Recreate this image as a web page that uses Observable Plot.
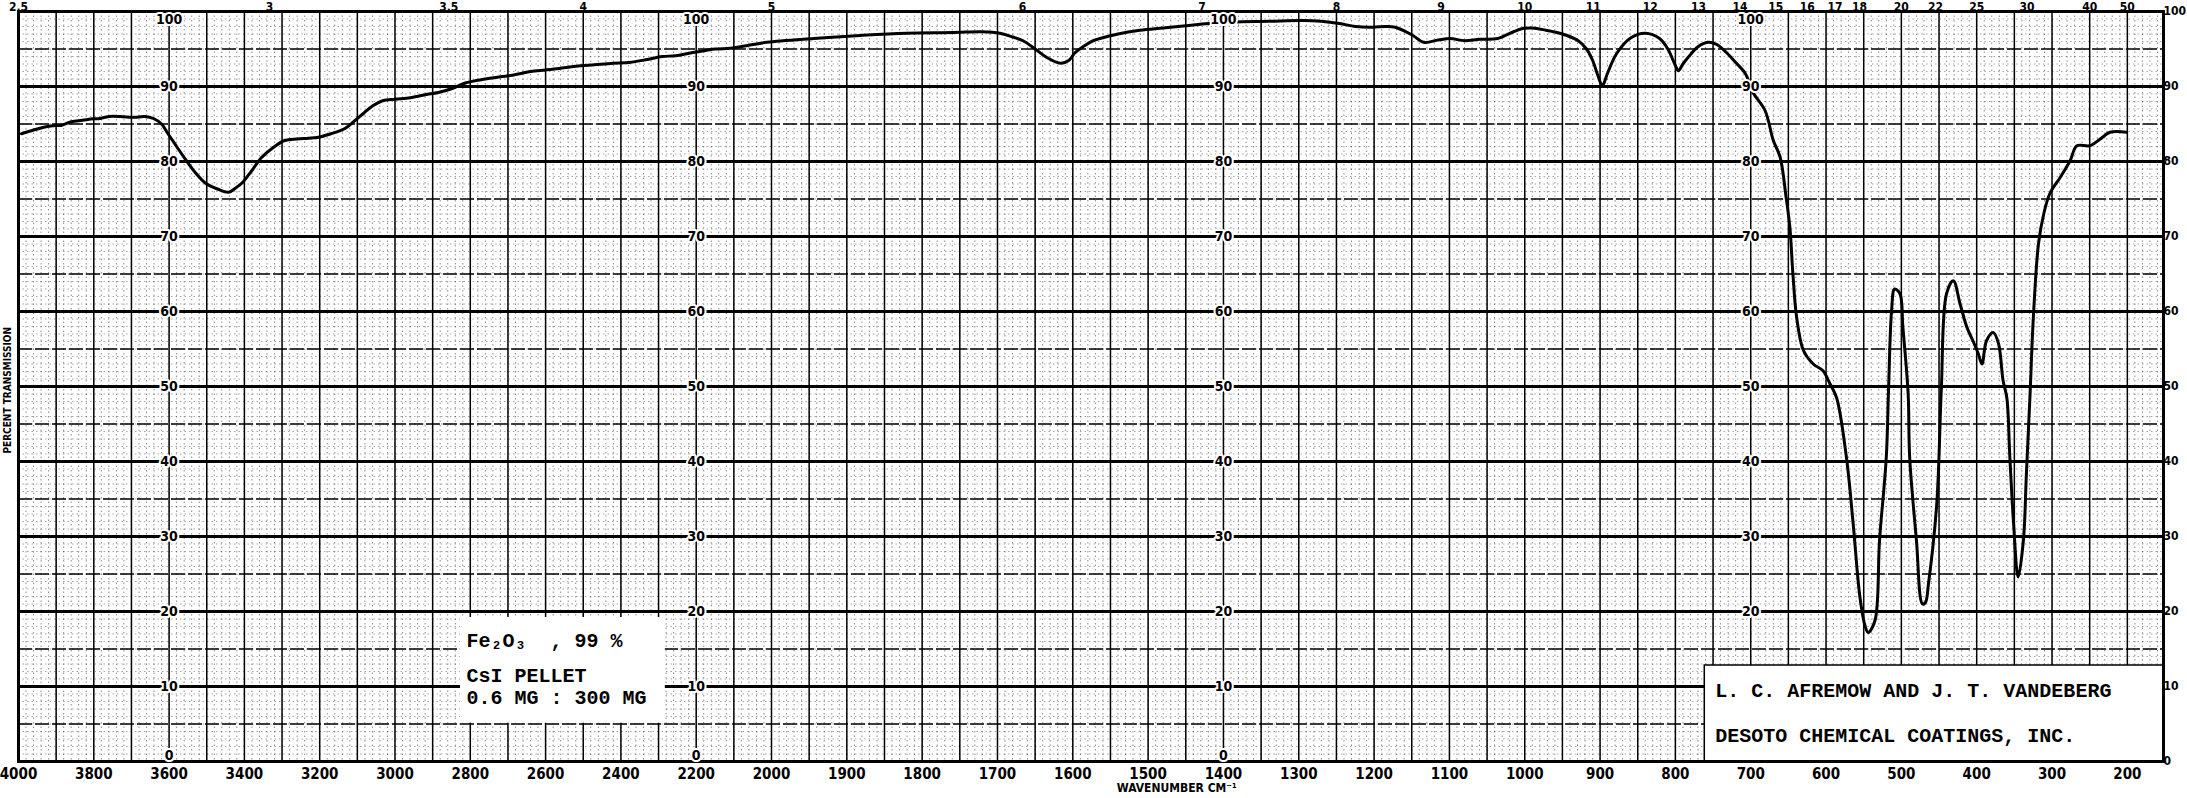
<!DOCTYPE html>
<html><head><meta charset="utf-8">
<script src="https://cdn.jsdelivr.net/npm/d3@7"></script>
<script src="https://cdn.jsdelivr.net/npm/@observablehq/plot@0.6"></script>
<style>
html,body{margin:0;padding:0;background:#fff;overflow:hidden}
</style></head><body><div id="chart"></div>
<script>
// Spectrum: wavenumber (cm-1) and percent transmission
const wavenumber = [3992,3960,3930,3900,3887,3860,3830,3800,3788,3760,3730,3700,3689,3665,3640,3620,3603,3580,3554,3530,3503,3470,3442,3425,3405,3380,3355,3325,3293,3260,3230,3207,3170,3133,3110,3084,3060,3033,3000,2959,2920,2885,2850,2811,2760,2720,2688,2640,2600,2564,2520,2470,2420,2378,2330,2290,2255,2200,2150,2109,2060,2012,1944,1882,1821,1759,1720,1697,1680,1666,1650,1635,1616,1605,1598,1585,1573,1540,1511,1480,1450,1420,1388,1340,1295,1270,1246,1225,1202,1185,1172,1150,1134,1115,1099,1080,1060,1036,1015,1004,990,972,950,929,918,910,903,897,890,878,859,840,821,810,800,796,790,783,770,757,745,732,720,707,697,681,670,661,653,648,644,639,630,617,604,595,586,573,564,555,548,544,535,529,520,517,513,509,502,498,491,489,480,472,468,464,453,447,440,431,422,413,405,398,393,387,378,371,365,360,356,351,345,338,334,329,325,318,311,303,289,276,267,250,236,223,201];
const transmission = [83.7,84.2,84.6,84.8,84.8,85.3,85.5,85.7,85.7,86.0,86.0,85.9,85.9,86.0,85.7,85.0,83.7,82.0,80.1,78.5,77.1,76.3,75.9,76.4,77.2,78.8,80.5,81.8,82.8,83.0,83.1,83.2,83.7,84.4,85.3,86.4,87.4,88.1,88.3,88.5,88.9,89.2,89.7,90.5,91.0,91.3,91.5,92.0,92.2,92.4,92.7,92.9,93.1,93.2,93.6,94.0,94.1,94.6,95.0,95.1,95.5,95.9,96.4,96.8,97.1,97.2,97.3,97.1,96.6,96.1,95.0,93.9,93.1,93.5,94.4,95.4,96.1,97.0,97.5,97.8,98.1,98.4,98.6,98.7,98.8,98.7,98.4,98.0,97.9,98.0,97.9,96.9,95.9,96.2,96.4,96.1,96.3,96.4,97.3,97.7,97.8,97.5,97.0,96.1,95.0,93.5,91.5,90.1,91.8,94.4,96.5,97.1,96.4,95.0,92.8,92.1,93.0,93.9,95.3,95.9,95.6,94.5,93.2,91.7,89.2,86.8,82.8,80.6,75.2,71.2,65.0,59.2,54.8,53.0,52.1,50.4,48.5,40.6,31.7,21.9,18.0,17.2,18.8,29.5,40.6,49.7,60.1,63.0,62.4,57.9,49.0,40.6,29.5,21.0,21.2,23.7,34.4,49.5,62.4,64.1,61.0,57.9,56.1,54.4,53.0,56.1,57.2,55.7,50.8,48.5,40.6,31.7,24.6,29.5,38.4,49.3,58.8,69.0,73.0,75.7,77.9,80.1,82.1,82.1,83.0,83.9,83.9];

// Axis tick values
const wavenumberTicks = [4000,3800,3600,3400,3200,3000,2800,2600,2400,2200,2000,1900,1800,1700,1600,1500,1400,1300,1200,1100,1000,900,800,700,600,500,400,300,200];
const micronTicks = [2.5,3,3.5,4,5,6,7,8,9,10,11,12,13,14,15,16,17,18,20,22,25,30,40,50];
const percentTicks = [0,10,20,30,40,50,60,70,80,90,100];
const percentInner = [10,20,30,40,50,60,70,80,90];
const labelColumns = [3600,2200,1400];
const lastColumn = 700;
const lastColumnTicks = [20,30,40,50,60,70,80,90];

// Annotation texts
const sampleLines = ["Fe\u2082O\u2083  , 99 %", "CsI PELLET", "0.6 MG : 300 MG"];
const sampleLineT = [16.1, 11.4, 8.5];
const authorLines = ["L. C. AFREMOW AND J. T. VANDEBERG", "DESOTO CHEMICAL COATINGS, INC."];
const authorLineT = [9.5, 3.5];

const spectrum = wavenumber.map((w, i) => ({w, t: transmission[i]}));
const microns = micronTicks.map(m => 10000 / m);
const minorV = d3.range(4000, 2000, -20).concat(d3.range(2000, 150, -10));
const majorV = d3.range(4000, 2000, -100).concat(d3.range(2000, 150, -50));
const minorH = d3.range(0, 101, 1);
const midH = d3.range(5, 100, 10);
const cross = (cols, vals) => cols.flatMap(c => vals.map(v => ({c, v})));
const innerLabels = cross(labelColumns, percentInner).concat(cross([lastColumn], lastColumnTicks));
const sample = sampleLines.map((s, i) => ({s, t: sampleLineT[i]}));
const author = authorLines.map((s, i) => ({s, t: authorLineT[i]}));

const sans = "'DejaVu Sans Condensed','DejaVu Sans',sans-serif";
const mono = "'Liberation Mono','DejaVu Sans Mono',monospace";
const halo = {fontSize: 14, fontWeight: "bold", stroke: "#fff", strokeWidth: 4, fill: "#000"};

const chart = Plot.plot({
  width: 2187,
  height: 798,
  marginLeft: 18,
  marginRight: 24,
  marginTop: 11,
  marginBottom: 37,
  style: {fontFamily: sans, background: "#fff", color: "#000"},
  x: {type: "linear", domain: [4000, 2000, 152], range: [18, 771, 2163], label: null},
  y: {domain: [0, 100], label: null},
  marks: [
    // grid
    Plot.ruleX(minorV, {stroke: "#000", strokeOpacity: 0.45, strokeWidth: 1, strokeDasharray: "1.5,3"}),
    Plot.ruleY(minorH, {stroke: "#000", strokeOpacity: 0.35, strokeWidth: 1, strokeDasharray: "1.5,3"}),
    Plot.ruleY(midH, {stroke: "#000", strokeWidth: 1.6, strokeDasharray: "14,3"}),
    Plot.ruleX(majorV, {stroke: "#000", strokeWidth: 1.5}),
    Plot.ruleY(percentTicks, {stroke: "#000", strokeWidth: 3}),
    // pasted label boxes
    Plot.rect([0], {x1: 2826, x2: 2282, y1: 5.1, y2: 19.2, fill: "#fff"}),
    Plot.rect([0], {x1: 761, x2: 152, y1: 0, y2: 12.8, fill: "#fff", stroke: "#000", strokeWidth: 1.5}),
    Plot.frame({stroke: "#000", strokeWidth: 3}),
    // spectrum
    Plot.line(spectrum, {x: "w", y: "t", stroke: "#000", strokeWidth: 3, curve: "catmull-rom"}),
    // in-chart percent labels
    Plot.text(innerLabels, {x: "c", y: "v", text: d => String(d.v), ...halo}),
    Plot.text(cross(labelColumns.concat([lastColumn]), [100]), {x: "c", y: "v", text: d => String(d.v), lineAnchor: "top", dy: 3, ...halo}),
    Plot.text(cross(labelColumns, [0]), {x: "c", y: "v", text: d => String(d.v), lineAnchor: "bottom", dy: -2, ...halo}),
    // axes
    Plot.axisX(wavenumberTicks, {anchor: "bottom", tickSize: 0, tickPadding: 7, fontSize: 15, fontWeight: "bold", label: null, tickFormat: d => String(d)}),
    Plot.axisX(microns, {anchor: "top", tickSize: 0, tickPadding: 1, fontSize: 12, fontWeight: "bold", label: null,
      tickFormat: d => String(+(10000 / d).toPrecision(3))}),
    Plot.axisY(percentTicks, {anchor: "right", tickSize: 0, tickPadding: 0, fontSize: 12, fontWeight: "bold", label: null, tickFormat: d => String(d)}),
    Plot.text(["WAVENUMBER CM\u207B\u00B9"], {x: 1462, y: 0, dy: 27, fontSize: 12, fontWeight: "bold"}),
    Plot.text(["PERCENT TRANSMISSION"], {x: 4000, y: 49.5, dx: -11, rotate: -90, fontSize: 10, fontWeight: "bold"}),
    // annotations
    Plot.text(sample, {x: 2810, y: "t", text: "s", textAnchor: "start", fontFamily: mono, fontSize: 20, fontWeight: "bold"}),
    Plot.text(author, {x: 747, y: "t", text: "s", textAnchor: "start", fontFamily: mono, fontSize: 20, fontWeight: "bold"})
  ]
});
document.getElementById("chart").appendChild(chart);
</script>
</body></html>
